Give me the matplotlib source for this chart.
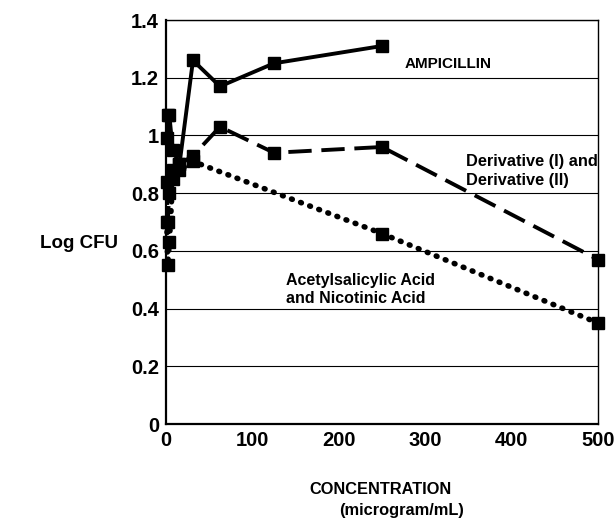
import matplotlib
matplotlib.use("Agg")
import matplotlib.pyplot as plt

plt.rcParams['font.family'] = ['Liberation Sans', 'DejaVu Sans']
plt.rcParams['font.weight'] = 'bold'

amp_x = [0.98, 1.95, 3.9, 7.8, 15.6, 31.25, 62.5, 125, 250]
amp_y = [0.99, 1.07, 1.07, 0.95, 0.90, 1.26, 1.17, 1.25, 1.31]

der_x = [0.98, 1.95, 3.9, 7.8, 15.6, 31.25, 62.5, 125, 250, 500]
der_y = [0.84, 0.70, 0.80, 0.88, 0.90, 0.93, 1.03, 0.94, 0.96, 0.57]

acid_x = [0.98, 1.95, 3.9, 7.8, 15.6, 31.25, 250, 500]
acid_y = [0.70, 0.55, 0.63, 0.85, 0.88, 0.91, 0.66, 0.35]

yticks = [0, 0.2, 0.4, 0.6, 0.8, 1.0, 1.2, 1.4]
ylabels = ['0', '0.2', '0.4', '0.6', '0.8', '1', '1.2', '1.4']
xticks = [0, 100, 200, 300, 400, 500]

fig = plt.figure(figsize=(6.15, 5.2), dpi=100)
ax = fig.add_axes([0.2699, 0.1846, 0.7024, 0.7769])

ax.plot(amp_x, amp_y, color='black', lw=2.8, ls='-', marker='s', ms=9, clip_on=False)
ax.plot(der_x, der_y, color='black', lw=2.8, ls=(0, (6, 2.5)), marker='s', ms=9, clip_on=False)
ax.plot(acid_x, acid_y, color='black', lw=4.0, ls=(0, (0.15, 1.6)), dash_capstyle='round',
        marker='s', ms=9, clip_on=False)

ax.set_xlim(0, 500)
ax.set_ylim(0, 1.4)
ax.set_yticks(yticks)
ax.set_yticklabels(ylabels)
ax.set_xticks(xticks)
ax.yaxis.grid(True, color='black', lw=0.8)
ax.set_axisbelow(True)
ax.tick_params(axis='both', labelsize=14.5, length=0, pad=5)
for s in ax.spines.values():
    s.set_linewidth(1.0)
    s.set_color('black')
ax.spines['left'].set_linewidth(1.6)
ax.spines['bottom'].set_linewidth(1.6)

ax.text(276, 1.248, 'AMPICILLIN', fontsize=11, fontweight='bold', va='center')
ax.text(347, 0.909, 'Derivative (I) and', fontsize=11.8, fontweight='bold', va='center')
ax.text(347, 0.843, 'Derivative (II)', fontsize=11.8, fontweight='bold', va='center')
ax.text(139, 0.498, 'Acetylsalicylic Acid', fontsize=11.5, fontweight='bold', va='center')
ax.text(139, 0.436, 'and Nicotinic Acid', fontsize=11.5, fontweight='bold', va='center')

fig.text(40 / 615, 1 - 243 / 520, 'Log CFU', fontsize=13.5, fontweight='bold', ha='left', va='center')
fig.text(381 / 615, 1 - 490 / 520, 'CONCENTRATION', fontsize=11.8, fontweight='bold', ha='center', va='center')
fig.text(402 / 615, 1 - 511 / 520, '(microgram/mL)', fontsize=11.8, fontweight='bold', ha='center', va='center')

fig.savefig('out.png', dpi=100)
